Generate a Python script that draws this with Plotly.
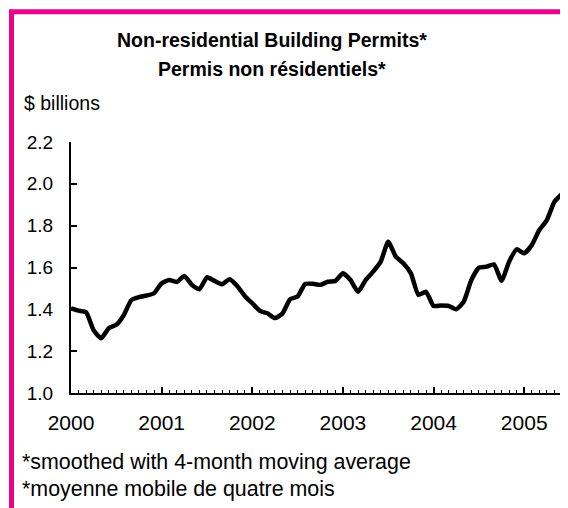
import plotly.graph_objects as go

# ---- data ----
years = [2000, 2001, 2002, 2003, 2004, 2005]
month_labels = [f"{y}-{m:02d}" for y in years for m in range(1, 13)][:66]
permits = [
    1.405, 1.394, 1.386, 1.300, 1.262, 1.310, 1.326, 1.373, 1.445, 1.458, 1.466, 1.477,
    1.525, 1.540, 1.531, 1.559, 1.517, 1.496, 1.553, 1.536, 1.520, 1.544, 1.512, 1.464,
    1.429, 1.393, 1.381, 1.358, 1.380, 1.448, 1.461, 1.521, 1.522, 1.517, 1.532, 1.536,
    1.572, 1.540, 1.484, 1.540, 1.580, 1.628, 1.723, 1.652, 1.620, 1.572, 1.469, 1.484,
    1.416, 1.418, 1.416, 1.400, 1.437, 1.540, 1.599, 1.604, 1.615, 1.537, 1.628, 1.687,
    1.668, 1.707, 1.779, 1.827, 1.914, 1.951,
]
year_ticks = [0, 12, 24, 36, 48, 60]
year_labels = [str(y) for y in years]
y_ticks = [1.0, 1.2, 1.4, 1.6, 1.8, 2.0, 2.2]

title1 = "Non-residential Building Permits*"
title2 = "Permis non résidentiels*"
unit = "$ billions"
note1 = "*smoothed with 4-month moving average"
note2 = "*moyenne mobile de quatre mois"

# ---- layout geometry (page pixels; the page body has an 8px margin) ----
OFF = 8
W, H = 568 - OFF, 508 - OFF
L, R, T, B = 71 - OFF, 565 - OFF, 142 - OFF, 393.5 - OFF
pw, ph = R - L, B - T

def px(x):
    return (x - OFF - L) / pw

def py(y):
    return (B - (y - OFF)) / ph

FONT = "Liberation Sans, Arial, sans-serif"
MAG = "#EC008C"

x_idx = list(range(len(permits)))

fig = go.Figure()
fig.add_trace(go.Scatter(
    x=x_idx, y=permits, mode="lines",
    line=dict(color="black", width=4.5, shape="spline", smoothing=0.5),
    text=month_labels, hoverinfo="text+y", showlegend=False,
))

fig.update_layout(
    width=W, height=H,
    margin=dict(l=L, r=W - R, t=T, b=H - B, pad=0),
    paper_bgcolor="white", plot_bgcolor="white",
    font=dict(family=FONT, color="black"),
    xaxis=dict(
        range=[0, 65.4], showgrid=False, zeroline=False,
        showline=True, linecolor="black", linewidth=2,
        tickmode="array", tickvals=year_ticks, ticktext=year_labels,
        ticks="inside", ticklen=6, tickwidth=1.5, tickcolor="black",
        tickfont=dict(size=21, family=FONT, color="black"),
        ticklabelstandoff=10,
        minor=dict(ticks="inside", ticklen=3, tickwidth=1.2, tickcolor="black",
                   dtick=1, tick0=0, showgrid=False),
    ),
    yaxis=dict(
        range=[1.0, 2.2], showgrid=False, zeroline=False,
        showline=True, linecolor="black", linewidth=2,
        tickmode="array", tickvals=y_ticks, tickformat=".1f",
        ticks="inside", ticklen=6, tickwidth=1.5, tickcolor="black",
        tickfont=dict(size=19, family=FONT, color="black"),
        ticklabelstandoff=12,
    ),
    shapes=[dict(
        type="rect", xref="paper", yref="paper",
        x0=px(11.5), x1=px(640), y0=py(640), y1=py(11.5),
        line=dict(color=MAG, width=5), fillcolor="rgba(0,0,0,0)", layer="above",
    )],
    annotations=[
        dict(text=f"<b>{title1}</b>", x=px(272), y=py(40), xref="paper", yref="paper",
             xanchor="center", yanchor="middle", showarrow=False,
             font=dict(size=19.5, family=FONT, color="black")),
        dict(text=f"<b>{title2}</b>", x=px(272), y=py(69), xref="paper", yref="paper",
             xanchor="center", yanchor="middle", showarrow=False,
             font=dict(size=19.5, family=FONT, color="black")),
        dict(text=unit, x=px(22), y=py(103), xref="paper", yref="paper",
             xanchor="left", yanchor="middle", showarrow=False,
             font=dict(size=19.5, family=FONT, color="black")),
        dict(text=note1, x=px(20), y=py(463), xref="paper", yref="paper",
             xanchor="left", yanchor="middle", showarrow=False,
             font=dict(size=21.4, family=FONT, color="black")),
        dict(text=note2, x=px(20), y=py(490), xref="paper", yref="paper",
             xanchor="left", yanchor="middle", showarrow=False,
             font=dict(size=21.4, family=FONT, color="black")),
    ],
)

fig.write_html("out.html")
